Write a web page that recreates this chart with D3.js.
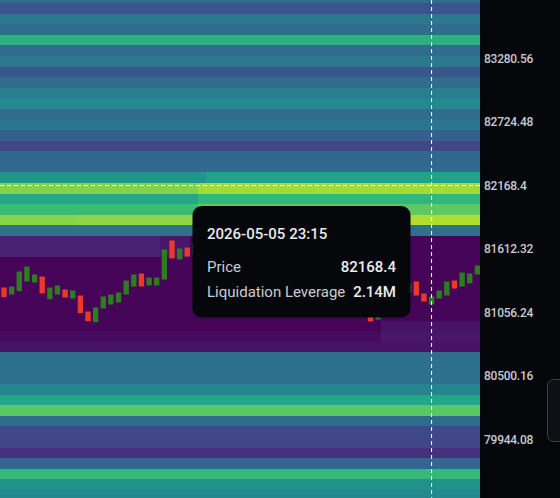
<!DOCTYPE html>
<html><head><meta charset="utf-8">
<script src="https://cdn.jsdelivr.net/npm/d3@7"></script>
<style>html,body{margin:0;padding:0;background:#04060a;overflow:hidden}</style>
</head><body>
<svg id="chart" width="560" height="498"></svg>
<script>
// ---- data ----
// price levels of the liquidation heatmap (one row each, top to bottom)
const levels = [83836.64, 83743.96, 83651.28, 83558.60, 83465.92, 83373.24, 83280.56, 83187.88,
  83095.20, 83002.52, 82909.84, 82817.16, 82724.48, 82631.80, 82539.12, 82446.44,
  82353.76, 82261.08, 82168.40, 82075.72, 81983.04, 81890.36, 81797.68, 81705.00,
  81612.32, 81519.64, 81426.96, 81334.28, 81241.60, 81148.92, 81056.24, 80963.56,
  80870.88, 80778.20, 80685.52, 80592.84, 80500.16, 80407.48, 80314.80, 80222.12,
  80129.44, 80036.76, 79944.08, 79851.40, 79758.72, 79666.04, 79573.36, 79480.68];
// relative liquidation intensity of each level (0..1)
const intensity = [0.35, 0.26, 0.40, 0.35, 0.64, 0.35, 0.40, 0.27,
  0.35, 0.42, 0.47, 0.35, 0.39, 0.30, 0.21, 0.33,
  0.34, 0.52, 0.81, 0.60, 0.68, 0.82, 0.37, 0.09,
  0.09, 0.01, 0.01, 0.01, 0.01, 0.01, 0.01, 0.01,
  0.03, 0.05, 0.36, 0.37, 0.36, 0.45, 0.60, 0.74,
  0.34, 0.22, 0.21, 0.14, 0.33, 0.67, 0.50, 0.47];
// local differences: [levelIndex, fromColumn, toColumn, intensity]
const hotspots = [
  [17, 27, 62, 0.58], [18, 26, 62, 0.86], [19, 26, 62, 0.66], [20, 26, 62, 0.75],
  [21, 10, 25, 0.83], [21, 26, 62, 0.88],
  [23, 21, 24, 0.06], [23, 25, 62, 0.01], [24, 21, 24, 0.06], [24, 25, 62, 0.01],
  [31, 50, 62, 0.05], [32, 50, 62, 0.06]
];
// 15-minute candles (open / close)
const opens = [81275.2, 81213.9, 81242.8, 81327.7, 81319.0, 81371.5, 81172.7, 81213.9, 81257.7, 81178.9,
  81205.1, 81065.0, 80971.3, 81091.3, 81126.3, 81143.8, 81213.9, 81283.9, 81397.8, 81292.7,
  81292.7, 81345.2, 81686.8, 81520.4, 81625.5, 81564.2, 81651.7, 81721.8, 81616.7, 81756.8,
  81686.8, 81791.8, 81634.2, 81529.1, 81599.2, 81459.1, 81389.0, 81476.6, 81336.5, 81406.5,
  81283.9, 81213.9, 81301.4, 81178.9, 81248.9, 81143.8, 81205.1, 81108.8, 81073.8, 80995.0,
  81056.3, 81161.3, 81108.8, 81231.4, 81327.7, 81222.6, 81126.3, 81178.9, 81205.1, 81336.5,
  81283.9, 81310.2, 81389.0];
const closes = [81190.2, 81283.9, 81415.3, 81459.1, 81389.0, 81222.6, 81275.2, 81292.7, 81187.6, 81248.9,
  81050.1, 80980.1, 81100.0, 81196.4, 81213.9, 81231.4, 81336.5, 81389.0, 81283.9, 81362.8,
  81362.8, 81608.0, 81529.1, 81616.7, 81546.7, 81651.7, 81721.8, 81616.7, 81756.8, 81686.8,
  81791.8, 81634.2, 81529.1, 81599.2, 81459.1, 81389.0, 81476.6, 81336.5, 81406.5, 81283.9,
  81213.9, 81301.4, 81178.9, 81248.9, 81143.8, 81205.1, 81108.8, 81056.3, 80977.4, 81065.0,
  81161.3, 81108.8, 81248.9, 81310.2, 81205.1, 81152.6, 81196.4, 81248.9, 81327.7, 81266.4,
  81406.5, 81397.8, 81467.8];
const yTicks = [83280.56, 82724.48, 82168.4, 81612.32, 81056.24, 80500.16, 79944.08];
const hoverIndex = 56;
const hoverPrice = 82168.4;
const tipTitle = "2026-05-05 23:15";
const tipRows = [["Price", "82168.4"], ["Liquidation Leverage", "2.14M"]];

// ---- layout ----
const W = 560, H = 498, plotW = 480;
const svg = d3.select("#chart");
const startTime = new Date(2026, 4, 5, 9, 15);
const times = opens.map((_, i) => d3.timeMinute.offset(startTime, 15 * i));

const y = d3.scaleLinear().domain([79944.08, 83280.56]).range([439.5, 58.5]);
const step = levels[0] - levels[1];
const bandH = y(levels[1]) - y(levels[0]);

const xHeat = d3.scaleBand().domain(times).range([0, plotW]);
const x = d3.scaleBand().domain(times).range([0.2, 481.2]).paddingInner(0.3).paddingOuter(0.15);

svg.append("rect").attr("width", W).attr("height", H).attr("fill", "#04060a");
svg.append("defs").append("clipPath").attr("id", "plotclip")
  .append("rect").attr("width", plotW).attr("height", H);
const plot = svg.append("g").attr("clip-path", "url(#plotclip)");

// heatmap
const cells = [];
levels.forEach((p, j) => times.forEach((t, c) => {
  let v = intensity[j];
  hotspots.forEach(([lj, c0, c1, val]) => { if (lj === j && c >= c0 && c <= c1) v = val; });
  cells.push({ p, t, v });
}));
plot.append("g").selectAll("rect").data(cells).join("rect")
  .attr("x", d => xHeat(d.t))
  .attr("width", xHeat.bandwidth() + 0.6)
  .attr("y", d => y(d.p) - 2.5)
  .attr("height", bandH + 0.6)
  .attr("fill", d => d3.interpolateViridis(d.v))
  .attr("shape-rendering", "crispEdges");

// candles
const candles = opens.map((o, i) => ({ t: times[i], o, c: closes[i] }));
plot.append("g").selectAll("rect").data(candles).join("rect")
  .attr("x", d => x(d.t))
  .attr("width", x.bandwidth())
  .attr("y", d => y(Math.max(d.o, d.c)))
  .attr("height", d => Math.max(1, Math.abs(y(d.o) - y(d.c))))
  .attr("fill", d => d.c >= d.o ? "#2f7b22" : "#e8392b");

// crosshair
const cx = x(times[hoverIndex]) + x.bandwidth() / 2;
plot.append("line").attr("x1", cx).attr("x2", cx).attr("y1", 0).attr("y2", H)
  .attr("stroke", "#fff").attr("stroke-width", 1).attr("stroke-dasharray", "4,3");
plot.append("line").attr("x1", 0).attr("x2", plotW).attr("y1", y(hoverPrice)).attr("y2", y(hoverPrice))
  .attr("stroke", "#fff").attr("stroke-width", 1).attr("stroke-dasharray", "4,3");

// tooltip
const tip = svg.append("g").attr("transform", "translate(192.5,206)");
tip.append("rect").attr("width", 218).attr("height", 111.5).attr("rx", 9).attr("fill", "#05070a");
tip.append("text").attr("x", 14.5).attr("y", 33).text(tipTitle)
  .attr("font-family", "Roboto, sans-serif").attr("font-size", 15).attr("font-weight", 500).attr("fill", "#e8eaed");
tipRows.forEach((r, k) => {
  const ty = 66.3 + k * 24.5;
  tip.append("text").attr("x", 14.5).attr("y", ty).text(r[0])
    .attr("font-family", "Roboto, sans-serif").attr("font-size", 15).attr("fill", "#c9cdd2");
  tip.append("text").attr("x", 203.5).attr("y", ty).attr("text-anchor", "end").text(r[1])
    .attr("font-family", "Roboto, sans-serif").attr("font-size", 15).attr("font-weight", 500).attr("fill", "#eceef0");
});

// right axis panel
svg.append("rect").attr("x", plotW).attr("width", W - plotW).attr("height", H).attr("fill", "#04060a");
const axis = svg.append("g").attr("transform", `translate(${plotW},0)`)
  .call(d3.axisRight(y).tickValues(yTicks).tickSize(0).tickPadding(4).tickFormat(d => String(d)));
axis.select(".domain").remove();
axis.selectAll("text").attr("fill", "#c7cbd1").attr("font-family", "Roboto, sans-serif")
  .attr("font-size", 12).attr("font-weight", 500).attr("letter-spacing", "-0.25px");

// small control at right edge
svg.append("rect").attr("x", 547.5).attr("y", 379.5).attr("width", 20).attr("height", 62).attr("rx", 6)
  .attr("fill", "#0c0f14").attr("stroke", "#3b4049");
</script>
</body></html>
